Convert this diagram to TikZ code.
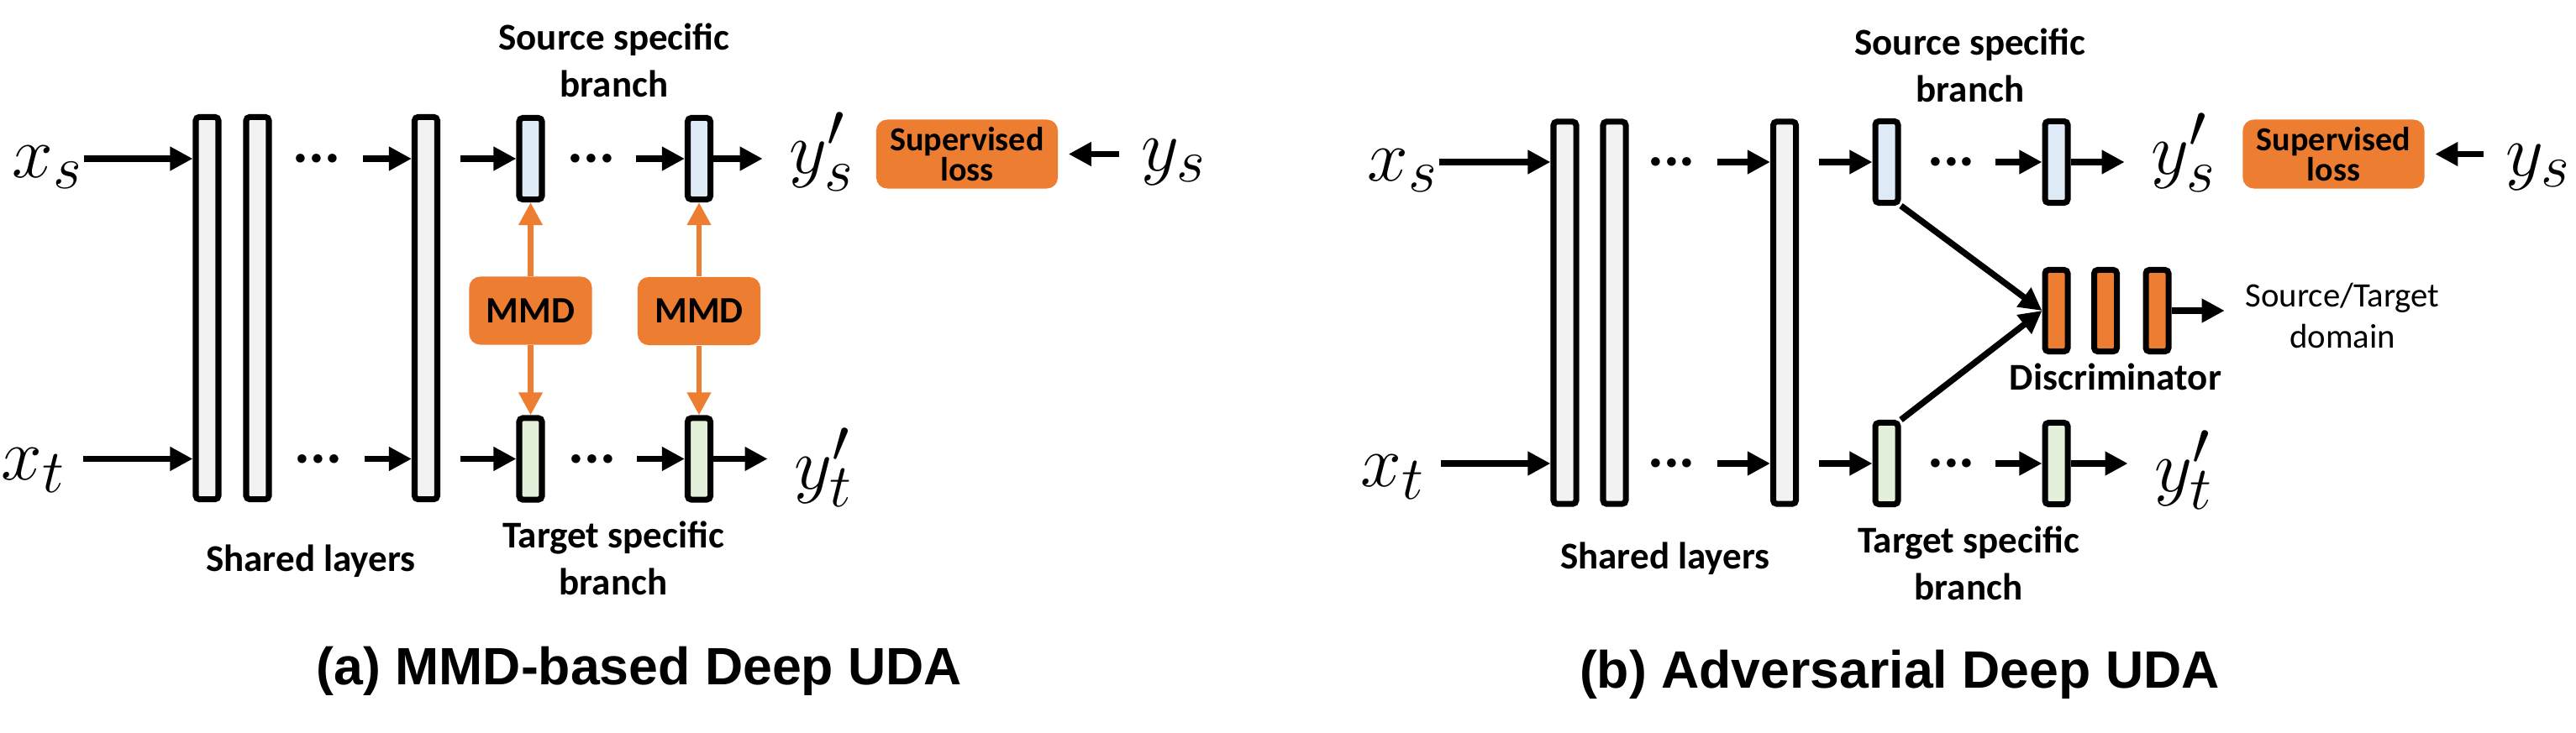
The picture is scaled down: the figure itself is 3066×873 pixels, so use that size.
\documentclass[tikz,border=0pt]{standalone}
\usepackage{fontspec}
\setmainfont{Carlito}
\newfontfamily\capfont{Liberation Sans}
\usetikzlibrary{arrows.meta}
\definecolor{lgray}{HTML}{F2F2F2}
\definecolor{lblue}{HTML}{DEEBF7}
\definecolor{lgreen}{HTML}{E2F0D9}
\definecolor{orng}{HTML}{ED7D31}
\tikzset{
 lay/.style={draw, line width=2pt, rounded corners=1.2pt, inner sep=0pt, minimum width=0.27cm},
 tall/.style={lay, fill=lgray, minimum height=4.55cm},
 srcbar/.style={lay, fill=lblue, minimum height=0.97cm},
 tgtbar/.style={lay, fill=lgreen, minimum height=0.97cm},
 dscbar/.style={lay, fill=orng, minimum height=0.97cm},
 dotsn/.style={inner sep=0pt, font=\bfseries\fontsize{20pt}{20pt}\selectfont},
 arr/.style={line width=2.1pt, -{Triangle[length=0.27cm,width=0.27cm]}},
 oarr/.style={arr, draw=orng, line width=1.9pt},
 obox/.style={fill=orng, rounded corners=0.13cm, inner sep=0pt, align=center},
 mmdbox/.style={obox, minimum width=1.46cm, minimum height=0.81cm, font=\bfseries\fontsize{12.6pt}{14pt}\selectfont},
 supbox/.style={obox, minimum width=2.16cm, minimum height=0.82cm, font=\bfseries\fontsize{11.4pt}{10.2pt}\selectfont},
 mth/.style={inner sep=0pt, font=\fontsize{24.88pt}{30pt}\selectfont},
 lbl/.style={inner sep=0pt, align=center, font=\bfseries\fontsize{12.8pt}{16pt}\selectfont},
 plainlbl/.style={inner sep=0pt, align=center, font=\fontsize{11.6pt}{13.7pt}\selectfont},
 captxt/.style={inner sep=0pt, font=\capfont\bfseries\fontsize{17.8pt}{20pt}\selectfont},
}
\begin{document}
\begin{tikzpicture}[x=0.01cm,y=-0.01cm]
\fill[white] (0,0) rectangle (3066,873);
\path[use as bounding box] (0,0) rectangle (3066,873);

% ---------------- panel (a) ----------------
\node[mth] (xsA) at (57,199) {$x_s$};
\node[tall] (a1) at (246.5,367) {};
\node[tall] (a2) at (306.5,367) {};
\node[dotsn] (ad1) at (377,189) {...};
\node[tall] (a3) at (507,367) {};
\node[srcbar] (as1) at (631.5,189) {};
\node[dotsn] (ad2) at (704,189) {...};
\node[srcbar] (as2) at (832,189) {};
\node[mth] (aysp) at (978,181) {$y'_s$};
\node[supbox] (asup) at (1151,183.5) {Supervised\\loss};
\node[mth] (ays) at (1397,193) {$y_s$};

\node[mth] (xtA) at (40,560) {$x_t$};
\node[dotsn] (ad3) at (379,546.5) {...};
\node[tgtbar] (at1) at (631.5,546.5) {};
\node[dotsn] (ad4) at (705,546.5) {...};
\node[tgtbar] (at2) at (832,546.5) {};
\node[mth] (aytp) at (980,557) {$y'_t$};

\node[mmdbox] (am1) at (631.5,370) {MMD};
\node[mmdbox] (am2) at (832,370.5) {MMD};

\node[lbl, anchor=north] (asrc) at (731,27) {Source specific\\branch};
\node[lbl] (ashr) at (370,668) {Shared layers};
\node[lbl, anchor=north] (atgt) at (730,620) {Target specific\\branch};
\node[captxt, anchor=base] (acap) at (761,815) {(a) MMD-based Deep UDA};

\draw[arr] (xsA.east |- as1.west) -- (a1.west |- as1.west);
\draw[arr, shorten <=0.26cm] (ad1.east) -- (a3.west |- ad1.east);
\draw[arr, shorten <=0.24cm] (a3.east |- as1.west) -- (as1.west);
\draw[arr, shorten <=0.24cm] (ad2.east) -- (as2.west);
\draw[arr, shorten >=0.31cm] (as2.east) -- (aysp.west |- as2.east);
\draw[arr, shorten <=0.26cm, shorten >=0.12cm] (ays.west |- asup.east) -- (asup.east);

\draw[arr, shorten <=0.2cm] (xtA.east |- at1.west) -- (a1.west |- at1.west);
\draw[arr, shorten <=0.26cm] (ad3.east) -- (a3.west |- ad3.east);
\draw[arr, shorten <=0.24cm] (a3.east |- at1.west) -- (at1.west);
\draw[arr, shorten <=0.24cm] (ad4.east) -- (at2.west);
\draw[arr, shorten >=0.31cm] (at2.east) -- (aytp.west |- at2.east);

\draw[oarr] (am1) -- (as1);
\draw[oarr] (am1) -- (at1);
\draw[oarr] (am2) -- (as2);
\draw[oarr] (am2) -- (at2);

% ---------------- panel (b) ----------------
\node[mth] (xsB) at (1670,203) {$x_s$};
\node[tall] (b1) at (1862.5,372.5) {};
\node[tall] (b2) at (1921.5,372.5) {};
\node[dotsn] (bd1) at (1989.5,193) {...};
\node[tall] (b3) at (2124,372.5) {};
\node[srcbar] (bs1) at (2245.5,193) {};
\node[dotsn] (bd2) at (2322.5,193) {...};
\node[srcbar] (bs2) at (2447.5,193) {};
\node[mth] (bysp) at (2599,182) {$y'_s$};
\node[supbox] (bsup) at (2777.5,183.5) {Supervised\\loss};
\node[mth] (bys) at (3021,199) {$y_s$};

\node[mth] (xtB) at (1658,568) {$x_t$};
\node[dotsn] (bd3) at (1989.5,552) {...};
\node[tgtbar] (bt1) at (2245.5,552) {};
\node[dotsn] (bd4) at (2322.5,552) {...};
\node[tgtbar] (bt2) at (2447.5,552) {};
\node[mth] (bytp) at (2599,560) {$y'_t$};

\node[dscbar] (dc1) at (2447.5,370) {};
\node[dscbar] (dc2) at (2506,370) {};
\node[dscbar] (dc3) at (2567.5,370) {};
\node[lbl] (bdisc) at (2518,449) {Discriminator};
\node[plainlbl] (bst) at (2788,376) {Source/Target\\domain};

\node[lbl, anchor=north] (bsrc) at (2345,33) {Source specific\\branch};
\node[lbl] (bshr) at (1982,665) {Shared layers};
\node[lbl, anchor=north] (btgt) at (2343,626) {Target specific\\branch};
\node[captxt, anchor=base] (bcap) at (2261,819) {(b) Adversarial Deep UDA};

\draw[arr] (xsB.east |- bs1.west) -- (b1.west |- bs1.west);
\draw[arr, shorten <=0.26cm] (bd1.east) -- (b3.west |- bd1.east);
\draw[arr, shorten <=0.24cm] (b3.east |- bs1.west) -- (bs1.west);
\draw[arr, shorten <=0.24cm] (bd2.east) -- (bs2.west);
\draw[arr, shorten >=0.31cm] (bs2.east) -- (bysp.west |- bs2.east);
\draw[arr, shorten <=0.26cm, shorten >=0.12cm] (bys.west |- bsup.east) -- (bsup.east);

\draw[arr, shorten <=0.18cm] (xtB.east |- bt1.west) -- (b1.west |- bt1.west);
\draw[arr, shorten <=0.26cm] (bd3.east) -- (b3.west |- bd3.east);
\draw[arr, shorten <=0.24cm] (b3.east |- bt1.west) -- (bt1.west);
\draw[arr, shorten <=0.24cm] (bd4.east) -- (bt2.west);
\draw[arr, shorten >=0.31cm] (bt2.east) -- (bytp.west |- bt2.east);

\draw[arr] (bs1.south east) -- (dc1.west);
\draw[arr] (bt1.north east) -- (dc1.west);
\draw[arr, shorten >=0.24cm] (dc3.east) -- (bst.west |- dc3.east);
\end{tikzpicture}
\end{document}
